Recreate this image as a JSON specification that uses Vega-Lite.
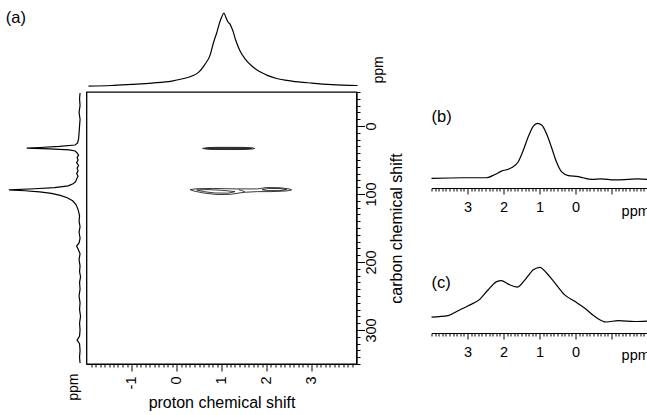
{
  "$schema": "https://vega.github.io/schema/vega-lite/v6.json",
  "padding": 0,
  "background": "white",
  "config": {
    "font": "Liberation Sans",
    "view": {"stroke": null},
    "scale": {"nice": false, "zero": false},
    "axis": {
      "labelFont": "Liberation Sans", "titleFont": "Liberation Sans",
      "labelColor": "black", "titleColor": "black", "tickColor": "black", "domainColor": "black",
      "labelFontSize": 14.5, "titleFontSize": 16, "titleFontWeight": "normal",
      "grid": false, "labelOverlap": false, "labelBound": false, "labelFlush": false, "tickWidth": 1, "domainWidth": 1
    }
  },
  "datasets": {
    "top": [
      {"h": -2.0, "i": 0}, {"h": -1.5, "i": 0.007}, {"h": -1.04, "i": 0.023}, {"h": -0.59, "i": 0.041},
      {"h": -0.15, "i": 0.068}, {"h": 0.07, "i": 0.096}, {"h": 0.3, "i": 0.137}, {"h": 0.45, "i": 0.19},
      {"h": 0.58, "i": 0.29}, {"h": 0.7, "i": 0.42}, {"h": 0.78, "i": 0.6}, {"h": 0.85, "i": 0.73},
      {"h": 0.92, "i": 0.88}, {"h": 0.96, "i": 0.945}, {"h": 1.01, "i": 1.0}, {"h": 1.05, "i": 0.945},
      {"h": 1.1, "i": 0.877}, {"h": 1.14, "i": 0.85}, {"h": 1.21, "i": 0.753}, {"h": 1.27, "i": 0.63},
      {"h": 1.36, "i": 0.49}, {"h": 1.47, "i": 0.38}, {"h": 1.63, "i": 0.274}, {"h": 1.78, "i": 0.205},
      {"h": 1.96, "i": 0.15}, {"h": 2.18, "i": 0.103}, {"h": 2.52, "i": 0.068}, {"h": 2.96, "i": 0.041},
      {"h": 3.41, "i": 0.02}, {"h": 3.98, "i": 0.007}
    ],
    "left": [
      {"c": -48.5, "i": -0.014}, {"c": -40, "i": -0.007}, {"c": -30, "i": -0.014}, {"c": -20, "i": 0},
      {"c": -10, "i": -0.014}, {"c": 0, "i": -0.007}, {"c": 10, "i": 0}, {"c": 19, "i": 0.007},
      {"c": 25, "i": 0.021}, {"c": 28, "i": 0.056}, {"c": 30, "i": 0.28}, {"c": 31.6, "i": 0.56},
      {"c": 32.4, "i": 0.746}, {"c": 33.6, "i": 0.42}, {"c": 35, "i": 0.14}, {"c": 36.8, "i": 0.056},
      {"c": 39.7, "i": 0.028}, {"c": 43, "i": 0.007}, {"c": 46, "i": 0.028}, {"c": 50, "i": 0.014},
      {"c": 54, "i": 0.035}, {"c": 58, "i": 0.007}, {"c": 62, "i": 0.028}, {"c": 66, "i": 0.014},
      {"c": 70, "i": 0.035}, {"c": 74, "i": 0.014}, {"c": 78, "i": 0.035}, {"c": 82, "i": 0.049},
      {"c": 85, "i": 0.085}, {"c": 88, "i": 0.155}, {"c": 90.5, "i": 0.352}, {"c": 92.3, "i": 0.634},
      {"c": 93.8, "i": 1.0}, {"c": 95.2, "i": 0.775}, {"c": 96.8, "i": 0.563}, {"c": 99, "i": 0.394},
      {"c": 102, "i": 0.268}, {"c": 105.5, "i": 0.169}, {"c": 110, "i": 0.092}, {"c": 116, "i": 0.042},
      {"c": 123, "i": 0.014}, {"c": 132, "i": -0.007}, {"c": 140, "i": 0}, {"c": 148, "i": -0.014},
      {"c": 156, "i": 0}, {"c": 165, "i": -0.014}, {"c": 172, "i": 0}, {"c": 176.5, "i": 0.035},
      {"c": 181, "i": 0.014}, {"c": 188, "i": -0.014}, {"c": 196, "i": 0}, {"c": 206, "i": -0.014},
      {"c": 214, "i": -0.007}, {"c": 222, "i": -0.021}, {"c": 230, "i": -0.007}, {"c": 240, "i": -0.014},
      {"c": 250, "i": 0}, {"c": 260, "i": -0.014}, {"c": 270, "i": -0.007}, {"c": 280, "i": -0.021},
      {"c": 290, "i": -0.007}, {"c": 300, "i": -0.014}, {"c": 309, "i": -0.007}, {"c": 315, "i": 0.028},
      {"c": 320, "i": -0.007}, {"c": 330, "i": -0.014}, {"c": 340, "i": -0.007}, {"c": 348.5, "i": -0.014}
    ],
    "contours": [
      {"k": 1, "o": 1, "h": 0.58, "c": 33}, {"k": 1, "o": 2, "h": 0.66, "c": 32.0}, {"k": 1, "o": 3, "h": 0.85, "c": 31.4},
      {"k": 1, "o": 4, "h": 1.2, "c": 31.4}, {"k": 1, "o": 5, "h": 1.5, "c": 31.5}, {"k": 1, "o": 6, "h": 1.68, "c": 32.1},
      {"k": 1, "o": 7, "h": 1.74, "c": 33}, {"k": 1, "o": 8, "h": 1.68, "c": 33.9}, {"k": 1, "o": 9, "h": 1.5, "c": 34.5},
      {"k": 1, "o": 10, "h": 1.2, "c": 34.6}, {"k": 1, "o": 11, "h": 0.85, "c": 34.5}, {"k": 1, "o": 12, "h": 0.66, "c": 34.0},
      {"k": 1, "o": 13, "h": 0.58, "c": 33},
      {"k": 2, "o": 1, "h": 0.64, "c": 33}, {"k": 2, "o": 2, "h": 0.75, "c": 32.2}, {"k": 2, "o": 3, "h": 1.1, "c": 32.0},
      {"k": 2, "o": 4, "h": 1.45, "c": 32.1}, {"k": 2, "o": 5, "h": 1.68, "c": 33}, {"k": 2, "o": 6, "h": 1.45, "c": 33.9},
      {"k": 2, "o": 7, "h": 1.1, "c": 34.0}, {"k": 2, "o": 8, "h": 0.75, "c": 33.8}, {"k": 2, "o": 9, "h": 0.64, "c": 33},
      {"k": 3, "o": 1, "h": 0.7, "c": 33.1}, {"k": 3, "o": 2, "h": 1.0, "c": 32.5}, {"k": 3, "o": 3, "h": 1.4, "c": 32.6},
      {"k": 3, "o": 4, "h": 1.62, "c": 33.1}, {"k": 3, "o": 5, "h": 1.4, "c": 33.6}, {"k": 3, "o": 6, "h": 1.0, "c": 33.7},
      {"k": 3, "o": 7, "h": 0.7, "c": 33.1},
      {"k": 4, "o": 1, "h": 0.30, "c": 93.5}, {"k": 4, "o": 2, "h": 0.45, "c": 92.3}, {"k": 4, "o": 3, "h": 0.8, "c": 91.8},
      {"k": 4, "o": 4, "h": 1.3, "c": 92.5}, {"k": 4, "o": 5, "h": 1.8, "c": 92.5}, {"k": 4, "o": 6, "h": 2.0, "c": 90.5},
      {"k": 4, "o": 7, "h": 2.3, "c": 90.8}, {"k": 4, "o": 8, "h": 2.5, "c": 92.5}, {"k": 4, "o": 9, "h": 2.56, "c": 94},
      {"k": 4, "o": 10, "h": 2.45, "c": 95.5}, {"k": 4, "o": 11, "h": 2.1, "c": 96.5}, {"k": 4, "o": 12, "h": 1.8, "c": 96.5},
      {"k": 4, "o": 13, "h": 1.5, "c": 97.5}, {"k": 4, "o": 14, "h": 1.2, "c": 100.5}, {"k": 4, "o": 15, "h": 0.9, "c": 100.8},
      {"k": 4, "o": 16, "h": 0.6, "c": 98.5}, {"k": 4, "o": 17, "h": 0.38, "c": 95.5}, {"k": 4, "o": 18, "h": 0.30, "c": 93.5},
      {"k": 5, "o": 1, "h": 0.45, "c": 94}, {"k": 5, "o": 2, "h": 0.7, "c": 93.5}, {"k": 5, "o": 3, "h": 1.0, "c": 94.5},
      {"k": 5, "o": 4, "h": 1.3, "c": 96.5}, {"k": 5, "o": 5, "h": 1.15, "c": 98.8}, {"k": 5, "o": 6, "h": 0.85, "c": 98.5},
      {"k": 5, "o": 7, "h": 0.6, "c": 96.5}, {"k": 5, "o": 8, "h": 0.45, "c": 94},
      {"k": 6, "o": 1, "h": 1.9, "c": 93.5}, {"k": 6, "o": 2, "h": 2.05, "c": 91.8}, {"k": 6, "o": 3, "h": 2.3, "c": 92},
      {"k": 6, "o": 4, "h": 2.45, "c": 93.5}, {"k": 6, "o": 5, "h": 2.3, "c": 95}, {"k": 6, "o": 6, "h": 2.0, "c": 95},
      {"k": 6, "o": 7, "h": 1.9, "c": 93.5},
      {"k": 7, "o": 1, "h": 1.38, "c": 93.5}, {"k": 7, "o": 2, "h": 1.45, "c": 95}, {"k": 7, "o": 3, "h": 1.52, "c": 96.5}
    ],
    "b": [
      {"h": 4.0, "i": 0}, {"h": 3.12, "i": 0.01}, {"h": 2.47, "i": 0.01}, {"h": 2.24, "i": 0.07}, {"h": 2.06, "i": 0.13},
      {"h": 1.78, "i": 0.19}, {"h": 1.59, "i": 0.30}, {"h": 1.45, "i": 0.51}, {"h": 1.31, "i": 0.76}, {"h": 1.17, "i": 0.95},
      {"h": 1.06, "i": 1.0}, {"h": 0.94, "i": 0.97}, {"h": 0.81, "i": 0.82}, {"h": 0.67, "i": 0.57}, {"h": 0.53, "i": 0.30},
      {"h": 0.39, "i": 0.12}, {"h": 0.20, "i": 0.05}, {"h": -0.08, "i": 0.03}, {"h": -0.21, "i": 0.01}, {"h": -0.44, "i": -0.02},
      {"h": -0.72, "i": -0.01}, {"h": -1.08, "i": -0.03}, {"h": -1.46, "i": -0.02}, {"h": -1.74, "i": -0.01}, {"h": -2.0, "i": -0.02}
    ],
    "c": [
      {"h": 4.0, "i": -0.01}, {"h": 3.54, "i": 0.02}, {"h": 3.26, "i": 0.12}, {"h": 2.98, "i": 0.22}, {"h": 2.66, "i": 0.35},
      {"h": 2.43, "i": 0.54}, {"h": 2.19, "i": 0.71}, {"h": 2.06, "i": 0.73}, {"h": 1.87, "i": 0.66}, {"h": 1.61, "i": 0.60},
      {"h": 1.41, "i": 0.74}, {"h": 1.17, "i": 0.95}, {"h": 0.99, "i": 1.0}, {"h": 0.81, "i": 0.89}, {"h": 0.57, "i": 0.68},
      {"h": 0.30, "i": 0.44}, {"h": 0.02, "i": 0.31}, {"h": -0.26, "i": 0.17}, {"h": -0.54, "i": 0.0}, {"h": -0.86, "i": -0.11},
      {"h": -1.19, "i": -0.08}, {"h": -1.65, "i": -0.10}, {"h": -2.0, "i": -0.09}
    ]
  },
  "spacing": 22.5,
  "hconcat": [
    {
      "spacing": 1,
      "vconcat": [
        {
          "spacing": 0.5,
          "hconcat": [
            {
              "width": 85, "height": 88,
              "data": {"values": [{"t": "(a)", "h": -3.76, "i": 0.93}]},
              "mark": {"type": "text", "align": "left", "baseline": "middle", "fontSize": 16.5, "color": "black"},
              "encoding": {
                "x": {"field": "h", "type": "quantitative", "scale": {"domain": [-3.89, -2]}, "axis": null},
                "y": {"field": "i", "type": "quantitative", "scale": {"domain": [-0.027, 1.178]}, "axis": null},
                "text": {"field": "t"}
              }
            },
            {
              "width": 270, "height": 88,
              "encoding": {
                "x": {"field": "h", "type": "quantitative", "scale": {"domain": [-2, 4]}, "axis": null},
                "y": {"field": "i", "type": "quantitative", "scale": {"domain": [-0.027, 1.178]}, "axis": null}
              },
              "layer": [
                {
                  "data": {"name": "top"},
                  "mark": {"type": "line", "color": "black", "strokeWidth": 1.2, "interpolate": "monotone"}
                },
                {
                  "data": {"values": [{"t": "ppm", "h": 4.45, "i": 0.22}]},
                  "mark": {"type": "text", "align": "center", "baseline": "middle", "angle": 270, "fontSize": 14, "color": "black"},
                  "encoding": {"text": {"field": "t"}}
                }
              ]
            }
          ]
        },
        {
          "spacing": 0.5,
          "hconcat": [
            {
              "width": 85, "height": 272,
              "encoding": {
                "x": {"field": "i", "type": "quantitative", "scale": {"domain": [-0.0845, 1.127], "reverse": true}, "axis": null},
                "y": {"field": "c", "type": "quantitative", "scale": {"domain": [-50, 350], "reverse": true}, "axis": null}
              },
              "layer": [
                {
                  "data": {"name": "left"},
                  "mark": {"type": "line", "color": "black", "strokeWidth": 1.2},
                  "encoding": {"order": {"field": "c", "type": "quantitative"}}
                },
                {
                  "data": {"values": [{"t": "ppm", "i": 0.07, "c": 384}]},
                  "mark": {"type": "text", "align": "center", "baseline": "middle", "angle": 270, "fontSize": 14, "color": "black"},
                  "encoding": {"text": {"field": "t"}}
                }
              ]
            },
            {
              "width": 270, "height": 272,
              "view": {"stroke": "black", "strokeWidth": 1.3},
              "data": {"name": "contours"},
              "mark": {"type": "line", "color": "#222", "strokeWidth": 0.9},
              "encoding": {
                "x": {"field": "h", "type": "quantitative", "scale": {"domain": [-2, 4]},
                  "axis": {
                    "orient": "bottom",
                    "values": [-1.9,-1.8,-1.7,-1.6,-1.5,-1.4,-1.3,-1.2,-1.1,-1,-0.9,-0.8,-0.7,-0.6,-0.5,-0.4,-0.3,-0.2,-0.1,0,0.1,0.2,0.3,0.4,0.5,0.6,0.7,0.8,0.9,1,1.1,1.2,1.3,1.4,1.5,1.6,1.7,1.8,1.9,2,2.1,2.2,2.3,2.4,2.5,2.6,2.7,2.8,2.9,3,3.1,3.2,3.3,3.4,3.5,3.6,3.7,3.8,3.9],
                    "tickSize": {"condition": {"test": "datum.value === round(datum.value)", "value": 7}, "value": 3},
                    "labelFontSize": {"condition": {"test": "datum.value === round(datum.value)", "value": 14.5}, "value": 0},
                    "labelExpr": "datum.value === round(datum.value) ? '' + datum.value : ''",
                    "labelAngle": 270, "labelAlign": "right", "labelBaseline": "middle", "labelPadding": 5,
                    "title": "proton chemical shift", "titlePadding": 6
                  }
                },
                "y": {"field": "c", "type": "quantitative", "scale": {"domain": [-50, 350], "reverse": true},
                  "axis": {
                    "orient": "right",
                    "values": [-50,-40,-30,-20,-10,0,10,20,30,40,50,60,70,80,90,100,110,120,130,140,150,160,170,180,190,200,210,220,230,240,250,260,270,280,290,300,310,320,330,340,350],
                    "tickSize": {"condition": {"test": "datum.value % 100 === 0", "value": 8}, "value": 3.5},
                    "labelFontSize": {"condition": {"test": "datum.value % 100 === 0", "value": 14.5}, "value": 0},
                    "labelExpr": "datum.value % 100 === 0 ? '' + datum.value : ''",
                    "labelAngle": 270, "labelAlign": "center", "labelBaseline": "middle", "labelPadding": 7,
                    "title": "carbon chemical shift", "titleAngle": 270, "titleAlign": "center", "titleBaseline": "middle",
                    "titleX": 40, "titleY": 136
                  }
                },
                "detail": {"field": "k", "type": "nominal"},
                "order": {"field": "o", "type": "quantitative"}
              }
            }
          ]
        }
      ]
    },
    {
      "spacing": 6,
      "vconcat": [
        {
          "width": 216, "height": 188,
          "encoding": {
            "x": {"field": "h", "type": "quantitative", "scale": {"domain": [-2, 4], "reverse": true},
              "axis": {
                "orient": "bottom", "title": null,
                "values": [-2,-1.9,-1.8,-1.7,-1.6,-1.5,-1.4,-1.3,-1.2,-1.1,-1,-0.9,-0.8,-0.7,-0.6,-0.5,-0.4,-0.3,-0.2,-0.1,0,0.1,0.2,0.3,0.4,0.5,0.6,0.7,0.8,0.9,1,1.1,1.2,1.3,1.4,1.5,1.6,1.7,1.8,1.9,2,2.1,2.2,2.3,2.4,2.5,2.6,2.7,2.8,2.9,3,3.1,3.2,3.3,3.4,3.5,3.6,3.7,3.8,3.9,4],
                "tickSize": {"condition": {"test": "datum.value === round(datum.value) && datum.value > -2 && datum.value < 4", "value": 6}, "value": 3},
                "labelFontSize": {"condition": {"test": "datum.value === round(datum.value) && datum.value >= 0 && datum.value <= 3", "value": 14.5}, "value": 0},
                "labelExpr": "datum.value === round(datum.value) && datum.value >= 0 && datum.value <= 3 ? '' + datum.value : ''",
                "labelAngle": 0, "labelPadding": 6
              }
            },
            "y": {"field": "i", "type": "quantitative", "scale": {"domain": [-0.176, 3.242]}, "axis": null}
          },
          "layer": [
            {
              "data": {"name": "b"},
              "mark": {"type": "line", "color": "black", "strokeWidth": 1.2, "interpolate": "monotone"}
            },
            {
              "data": {"values": [{"t": "(b)", "h": 4.0, "i": 1.115}, {"t": "ppm", "h": -1.28, "i": -0.613}]},
              "mark": {"type": "text", "align": "left", "baseline": "middle", "color": "black"},
              "encoding": {
                "text": {"field": "t"},
                "size": {"condition": {"test": "datum.t === 'ppm'", "value": 14.5}, "value": 16.5}
              }
            }
          ]
        },
        {
          "width": 216, "height": 108,
          "encoding": {
            "x": {"field": "h", "type": "quantitative", "scale": {"domain": [-2, 4], "reverse": true},
              "axis": {
                "orient": "bottom", "title": null,
                "values": [-2,-1.9,-1.8,-1.7,-1.6,-1.5,-1.4,-1.3,-1.2,-1.1,-1,-0.9,-0.8,-0.7,-0.6,-0.5,-0.4,-0.3,-0.2,-0.1,0,0.1,0.2,0.3,0.4,0.5,0.6,0.7,0.8,0.9,1,1.1,1.2,1.3,1.4,1.5,1.6,1.7,1.8,1.9,2,2.1,2.2,2.3,2.4,2.5,2.6,2.7,2.8,2.9,3,3.1,3.2,3.3,3.4,3.5,3.6,3.7,3.8,3.9,4],
                "tickSize": {"condition": {"test": "datum.value === round(datum.value) && datum.value > -2 && datum.value < 4", "value": 6}, "value": 3},
                "labelFontSize": {"condition": {"test": "datum.value === round(datum.value) && datum.value >= 0 && datum.value <= 3", "value": 14.5}, "value": 0},
                "labelExpr": "datum.value === round(datum.value) && datum.value >= 0 && datum.value <= 3 ? '' + datum.value : ''",
                "labelAngle": 0, "labelPadding": 6
              }
            },
            "y": {"field": "i", "type": "quantitative", "scale": {"domain": [-0.333, 1.859]}, "axis": null}
          },
          "layer": [
            {
              "data": {"name": "c"},
              "mark": {"type": "line", "color": "black", "strokeWidth": 1.2, "interpolate": "monotone"}
            },
            {
              "data": {"values": [{"t": "(c)", "h": 4.0, "i": 0.677}, {"t": "ppm", "h": -1.28, "i": -0.798}]},
              "mark": {"type": "text", "align": "left", "baseline": "middle", "color": "black"},
              "encoding": {
                "text": {"field": "t"},
                "size": {"condition": {"test": "datum.t === 'ppm'", "value": 14.5}, "value": 16.5}
              }
            }
          ]
        }
      ]
    }
  ]
}
